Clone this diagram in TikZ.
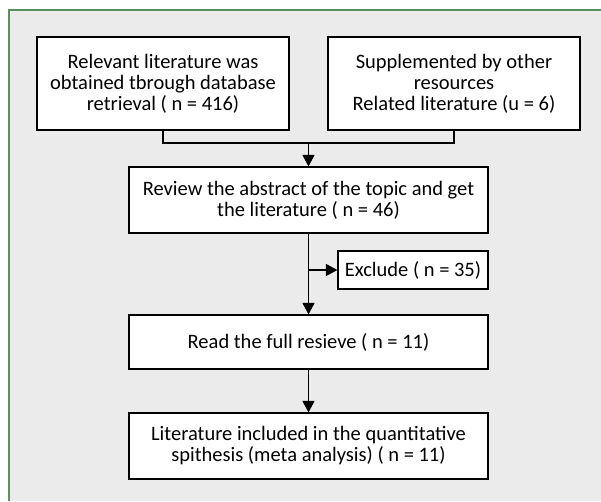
\documentclass[tikz,border=0pt]{standalone}
\usepackage{fontspec}
\setmainfont{Carlito}
\usetikzlibrary{arrows.meta}
\definecolor{bggray}{HTML}{EBEBEB}
\definecolor{framegreen}{HTML}{5E8F5E}
\begin{document}
\begin{tikzpicture}[x=1pt,y=-1pt,
  box/.style={draw=black,line width=1.2pt,fill=white,align=center,inner sep=0pt,
     font=\fontsize{20.5}{21}\selectfont},
  conn/.style={line width=1.2pt,draw=black},
  arr/.style={conn,-{Triangle[length=11.5pt,width=12pt]}}]
\useasboundingbox (0,0) rectangle (601,501);
\fill[white] (0,0) rectangle (601,501);
\fill[bggray] (9,10) rectangle (601,501);
\draw[framegreen,line width=1.2pt] (9,501) -- (9,10) -- (601,10);
\node[box,minimum width=252pt,minimum height=93pt] (b1) at (163,83.5)
  {Relevant literature was\\obtained tbrough database\\retrieval ( n = 416)};
\node[box,minimum width=252pt,minimum height=93pt] (b2) at (454,83.5)
  {Supplemented by other\\resources\\Related literature (u = 6)};
\node[box,minimum width=359pt,minimum height=66pt] (b3) at (308.5,200)
  {Review the abstract of the topic and get\\the literature ( n = 46)};
\node[box,minimum width=150pt,minimum height=38pt] (ex) at (413,270)
  {Exclude ( n = 35)};
\node[box,minimum width=359pt,minimum height=54pt] (b4) at (308.5,342)
  {Read the full resieve ( n = 11)};
\node[box,minimum width=359pt,minimum height=66pt] (b5) at (308.5,446)
  {Literature included in the quantitative\\spithesis (meta analysis) ( n = 11)};
\coordinate (j) at (308.5,143);
\coordinate (k) at (308.5,270);
\draw[conn] (b1.south) |- (j) -| (b2.south);
\draw[arr] (j) -- (b3.north);
\draw[arr] (b3.south) -- (b4.north);
\draw[arr] (k) -- (ex.west);
\draw[arr] (b4.south) -- (b5.north);
\end{tikzpicture}
\end{document}
